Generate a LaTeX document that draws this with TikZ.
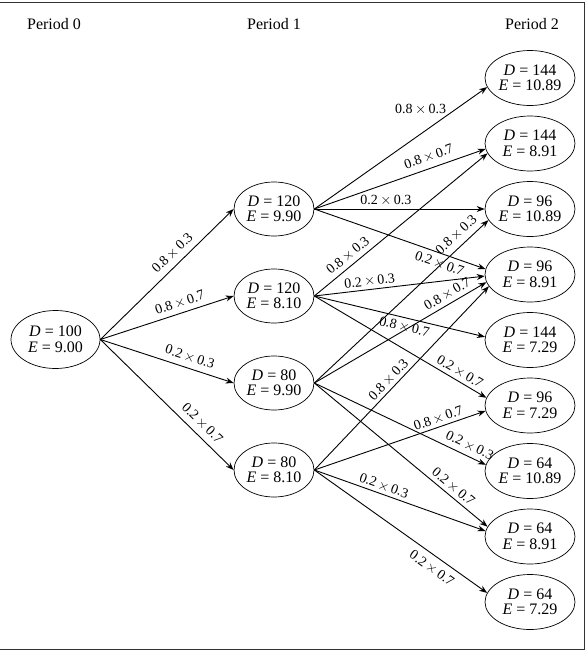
\documentclass[tikz,border=0pt]{standalone}
\usepackage{fontspec}
\setmainfont{Liberation Serif}
\usetikzlibrary{arrows.meta,positioning,shapes.geometric}
\tikzset{
  state/.style={draw, ellipse, inner sep=0pt, align=center, line width=0.7pt, minimum width=80pt, minimum height=54pt, font=\fontsize{16}{15.5}\selectfont},
  last/.style={state, minimum width=90pt, minimum height=55pt},
  head/.style={font=\fontsize{16}{18}\selectfont},
  arrow/.style={-{Stealth[length=8pt,width=6pt]}, line width=0.9pt},
  prob/.style={font=\fontsize{14}{15}\selectfont, sloped, above=3pt, inner sep=1.5pt},
  probb/.style={prob, below=3pt}
}
\newcommand{\DE}[2]{\textit{D} = #1\\\textit{E} = #2}
\newcommand{\pxq}[2]{#1\,$\times$\,#2}

\begin{document}
\begin{tikzpicture}[x=1pt,y=-1pt]
  \useasboundingbox (0,0) rectangle (588,651);
  \draw[line width=1pt, black!80] (0,2) -- (584,2) -- (584,649) -- (0,649);
  % period headings
  \node[head] (h0) at (54,24) {Period 0};
  \node[head] (h1) at (274,24) {Period 1};
  \node[head] (h2) at (532,24) {Period 2};
  % period 0
  \node[state, minimum width=89pt, minimum height=58pt] (r) at (55.5,339.5) {\DE{100}{9.00}};
  % period 1
  \node[state] (a) at (274,209) {\DE{120}{9.90}};
  \node[state] (b) at (274,296) {\DE{120}{8.10}};
  \node[state] (c) at (274,383) {\DE{80}{9.90}};
  \node[state] (d) at (274,470) {\DE{80}{8.10}};
  % period 2
  \node[last] (n1) at (530,78) {\DE{144}{10.89}};
  \node[last] (n2) at (530,143.5) {\DE{144}{8.91}};
  \node[last] (n3) at (530,209) {\DE{96}{10.89}};
  \node[last] (n4) at (530,274.5) {\DE{96}{8.91}};
  \node[last] (n5) at (530,340) {\DE{144}{7.29}};
  \node[last] (n6) at (530,405.5) {\DE{96}{7.29}};
  \node[last] (n7) at (530,471) {\DE{64}{10.89}};
  \node[last] (n8) at (530,536.5) {\DE{64}{8.91}};
  \node[last] (n9) at (530,602) {\DE{64}{7.29}};
  % first step
  \draw[arrow] (r.east) -- (a.west) node[prob, pos=0.6, above=4pt] {\pxq{0.8}{0.3}};
  \draw[arrow] (r.east) -- (b.west) node[prob, pos=0.62] {\pxq{0.8}{0.7}};
  \draw[arrow] (r.east) -- (c.west) node[prob, pos=0.645, above=4pt] {\pxq{0.2}{0.3}};
  \draw[arrow] (r.east) -- (d.west) node[prob, pos=0.705, above=4pt] {\pxq{0.2}{0.7}};
  % second step
  \draw[arrow] (a.east) -- (n1.192) node[font=\fontsize{14}{15}\selectfont, inner sep=1.5pt, pos=0.82, left=8pt] {\pxq{0.8}{0.3}};
  \draw[arrow] (a.east) -- (n2.187) node[prob, pos=0.69, above=4pt] {\pxq{0.8}{0.7}};
  \draw[arrow] (a.east) -- (n3.west) node[prob, pos=0.42, above=1.5pt] {\pxq{0.2}{0.3}};
  \draw[arrow] (a.east) -- (n4.173) node[probb, pos=0.75] {\pxq{0.2}{0.7}};
  \draw[arrow] (b.east) -- (n2.193) node[prob, pos=0.23, above=2.5pt] {\pxq{0.8}{0.3}};
  \draw[arrow] (b.east) -- (n5.176) node[probb, pos=0.54, below=2pt] {\pxq{0.8}{0.7}};
  \draw[arrow] (b.east) -- (n4.182) node[prob, pos=0.33, above=1pt] {\pxq{0.2}{0.3}};
  \draw[arrow] (b.east) -- (n6.170) node[prob, pos=0.82, above=1.5pt] {\pxq{0.2}{0.7}};
  \draw[arrow] (c.east) -- (n3.195) node[prob, pos=0.86, above=4pt] {\pxq{0.8}{0.3}};
  \draw[arrow] (c.east) -- (n4.190) node[prob, pos=0.8, above=2pt] {\pxq{0.8}{0.7}};
  \draw[arrow] (c.east) -- (n7.172) node[prob, pos=0.88] {\pxq{0.2}{0.3}};
  \draw[arrow] (c.east) -- (n8.167) node[prob, pos=0.77, above=1.5pt] {\pxq{0.2}{0.7}};
  \draw[arrow] (d.east) -- (n4.196) node[prob, pos=0.46, above=1pt] {\pxq{0.8}{0.3}};
  \draw[arrow] (d.east) -- (n6.187) node[prob, pos=0.74, above=1pt] {\pxq{0.8}{0.7}};
  \draw[arrow] (d.east) -- (n8.173) node[prob, pos=0.39, above=1pt] {\pxq{0.2}{0.3}};
  \draw[arrow] (d.east) -- (n9.168) node[probb, pos=0.72, below=5pt] {\pxq{0.2}{0.7}};
\end{tikzpicture}
\end{document}
